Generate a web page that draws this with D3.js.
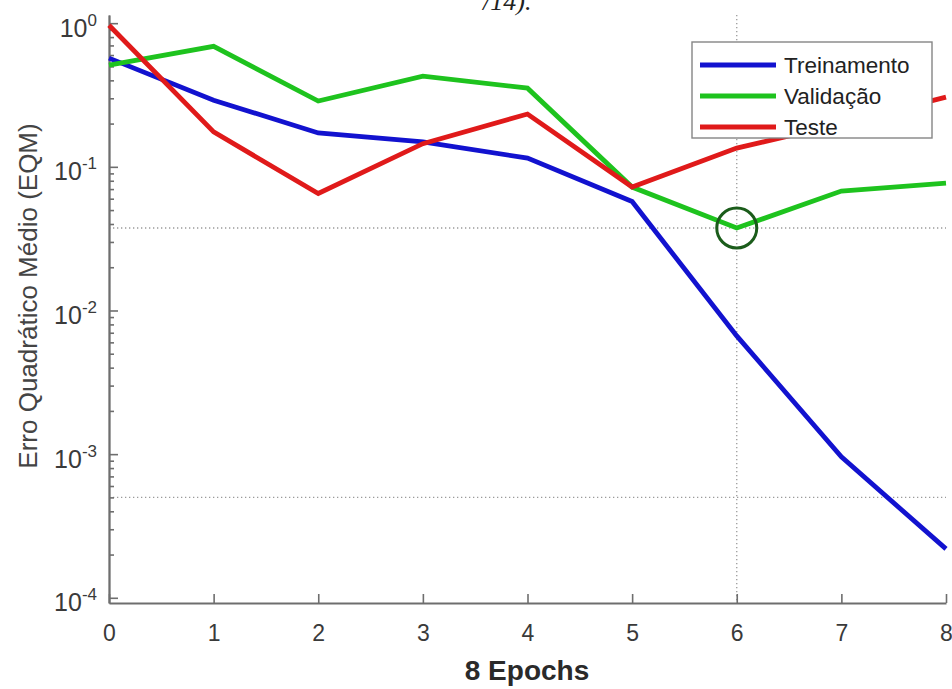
<!DOCTYPE html>
<html><head><meta charset="utf-8">
<script src="https://cdn.jsdelivr.net/npm/d3@7"></script>
<style>
html,body{margin:0;padding:0;background:#fff;}
svg{display:block;font-family:"Liberation Sans",Arial,sans-serif;}
</style></head>
<body>
<svg id="chart" width="952" height="689"></svg>
<script>
// ---- data ----
const epochs = [0, 1, 2, 3, 4, 5, 6, 7, 8];
const trainPerf = [0.571, 0.291, 0.172, 0.149, 0.115, 0.0573, 0.00665, 0.000957, 0.000219];
const valPerf   = [0.51, 0.69, 0.287, 0.428, 0.353, 0.0723, 0.0375, 0.0678, 0.077];
const testPerf  = [0.968, 0.175, 0.0652, 0.145, 0.233, 0.0723, 0.135, 0.2, 0.306];
const seriesNames = ["Treinamento", "Validação", "Teste"];
const bestEpoch = 6;
const bestPerf = 0.0375;
const goalPerf = 0.0005;
const xTickLabels = ["0", "1", "2", "3", "4", "5", "6", "7", "8"];
const yTickExponents = [0, -1, -2, -3, -4];
const yLabel = "Erro Quadrático Médio (EQM)";
const xLabel = "8 Epochs";
const topFragment = "/14).";

// ---- layout ----
const svg = d3.select("#chart");
const colors = ["#1212cf", "#1ec31e", "#e01a1a"];
const x = d3.scaleLinear().domain([0, 8]).range([109, 946]);
const y = d3.scaleLog().domain([9.2e-5, 1.14]).range([603, 15]);
const axisColor = "#6e6e6e";
const textColor = "#3a3a3a";

// top cropped document text (cut off at the top edge, as in the source)
svg.append("text").attr("x", 483).attr("y", 10)
  .attr("font-family", "Liberation Serif, serif").attr("font-style", "italic")
  .attr("font-size", 26).attr("fill", "#222").text(topFragment);

// reference dotted lines
const dot = svg.append("g").attr("stroke", "#9a9a9a").attr("stroke-width", 1.3)
  .attr("stroke-dasharray", "1.3,2.7").attr("fill", "none");
dot.append("line").attr("x1", x(bestEpoch)).attr("x2", x(bestEpoch))
  .attr("y1", y.range()[1]).attr("y2", y.range()[0]);
[bestPerf, goalPerf].forEach(v => {
  dot.append("line").attr("x1", x.range()[0]).attr("x2", x.range()[1])
    .attr("y1", y(v)).attr("y2", y(v));
});

// axes
const majorVals = yTickExponents.map(e => Math.pow(10, e));
const minorVals = [];
yTickExponents.slice(1).forEach(e => {
  for (let k = 2; k <= 9; k++) minorVals.push(k * Math.pow(10, e));
});

const yMinor = svg.append("g").attr("transform", `translate(${x.range()[0]},0)`)
  .call(d3.axisLeft(y).tickValues(minorVals).tickSizeInner(-5).tickSizeOuter(0).tickFormat(""));
const yMajor = svg.append("g").attr("transform", `translate(${x.range()[0]},0)`)
  .call(d3.axisLeft(y).tickValues(majorVals).tickSizeInner(-9).tickSizeOuter(0).tickFormat(""));
yMajor.selectAll(".tick").each(function(d, i) {
  const t = d3.select(this).append("text")
    .attr("x", -12).attr("y", 13).attr("text-anchor", "end")
    .attr("fill", textColor).attr("font-size", 25);
  t.append("tspan").text("10");
  t.append("tspan").attr("dy", -11).attr("font-size", 17).text(String(yTickExponents[i]));
});
const xAxis = svg.append("g").attr("transform", `translate(0,${y.range()[0]})`)
  .call(d3.axisBottom(x).tickValues(epochs).tickSizeInner(-9).tickSizeOuter(0)
    .tickFormat((d, i) => xTickLabels[i]));
xAxis.selectAll(".tick text").attr("y", 22).attr("font-size", 23).attr("fill", textColor)
  .attr("font-family", "Liberation Sans, Arial, sans-serif");

[yMinor, yMajor, xAxis].forEach(g => {
  g.selectAll("path, line").attr("stroke", axisColor).attr("stroke-width", 1.6);
  g.select(".domain").attr("stroke-width", 1.8);
});

// series lines
const line = d3.line().x((d, i) => x(epochs[i])).y(d => y(d));
[trainPerf, valPerf, testPerf].forEach((s, i) => {
  svg.append("path").datum(s).attr("d", line).attr("fill", "none")
    .attr("stroke", colors[i]).attr("stroke-width", 4.8).attr("stroke-linejoin", "miter");
});

// best validation circle
svg.append("circle").attr("cx", x(bestEpoch)).attr("cy", y(bestPerf)).attr("r", 20)
  .attr("fill", "none").attr("stroke", "#1b5c1b").attr("stroke-width", 3);

// legend
const lg = svg.append("g").attr("transform", "translate(692,42)");
lg.append("rect").attr("width", 240).attr("height", 96).attr("fill", "#fff")
  .attr("stroke", "#858585").attr("stroke-width", 1.4);
seriesNames.forEach((n, i) => {
  const yy = 23 + i * 31;
  lg.append("line").attr("x1", 8).attr("x2", 84).attr("y1", yy).attr("y2", yy)
    .attr("stroke", colors[i]).attr("stroke-width", 4.8);
  lg.append("text").attr("x", 92).attr("y", yy + 8).attr("font-size", 22.5)
    .attr("fill", "#222").text(n);
});

// axis titles
svg.append("text").attr("transform", "translate(37,296) rotate(-90)")
  .attr("text-anchor", "middle").attr("font-size", 26).attr("fill", "#444").text(yLabel);
svg.append("text").attr("x", 527).attr("y", 680).attr("text-anchor", "middle")
  .attr("font-size", 28).attr("font-weight", "bold").attr("fill", "#2a2a2a").text(xLabel);
</script>
</body></html>
